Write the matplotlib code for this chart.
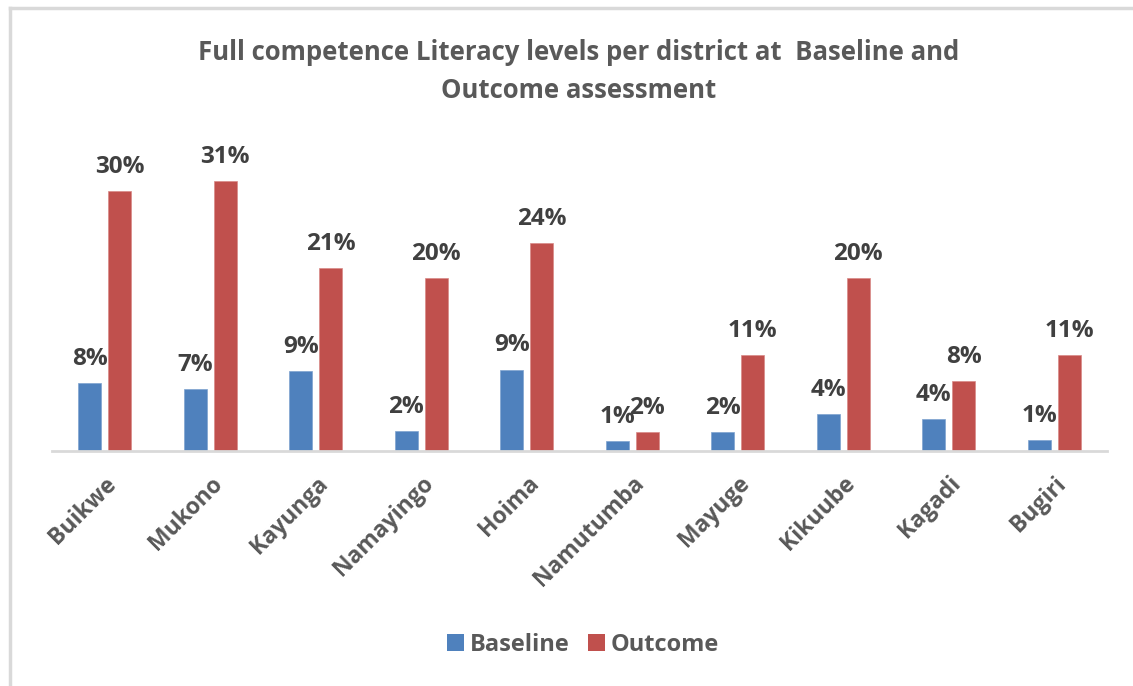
import matplotlib

matplotlib.use("Agg")
import matplotlib.pyplot as plt
import numpy as np
from matplotlib.lines import Line2D
from matplotlib.patches import Patch

districts = ["Buikwe", "Mukono", "Kayunga", "Namayingo", "Hoima",
             "Namutumba", "Mayuge", "Kikuube", "Kagadi", "Bugiri"]
baseline = [7.8, 7.2, 9.2, 2.3, 9.4, 1.1, 2.2, 4.3, 3.7, 1.3]
outcome = [30.0, 31.1, 21.1, 20.0, 24.0, 2.2, 11.1, 20.0, 8.1, 11.1]

BLUE = "#4f81bd"
RED = "#c0504d"
TEXT = "#595959"
LABEL = "#404040"

plt.rcParams["font.family"] = ["Open Sans", "DejaVu Sans"]

fig = plt.figure(figsize=(11.33, 6.86), dpi=100)
ax = fig.add_axes([0.0459, 0.3426, 0.9311, 0.4422])

# light grey frame lines (top and left edge of the chart box)
fy = 1 - 7.5 / 686
fx = 9.5 / 1133
fig.add_artist(Line2D([fx, 1.0], [fy, fy], transform=fig.transFigure,
                      color="#d9d9d9", linewidth=2.5))
fig.add_artist(Line2D([fx, fx], [0, fy], transform=fig.transFigure,
                      color="#d9d9d9", linewidth=2.5))

x = np.arange(len(districts))
w = 0.218
off = 0.143
b1 = ax.bar(x - off, baseline, w, color=BLUE, edgecolor="#7ea3d0", linewidth=0.5)
b2 = ax.bar(x + off, outcome, w, color=RED, edgecolor="#d98a88", linewidth=0.5)

for bars, vals in ((b1, baseline), (b2, outcome)):
    for bar, v in zip(bars, vals):
        ax.annotate(f"{v:.0f}%", (bar.get_x() + bar.get_width() / 2, v),
                    xytext=(0, 13), textcoords="offset points",
                    ha="center", va="baseline", fontsize=17.5,
                    fontweight="bold", color=LABEL)

ax.set_xlim(-0.5, len(districts) - 0.5)
ax.set_ylim(0, 35)
ax.set_yticks([])
for s in ("top", "right", "left"):
    ax.spines[s].set_visible(False)
ax.spines["bottom"].set_color("#d9d9d9")
ax.spines["bottom"].set_linewidth(2)

ax.set_xticks(x)
ax.set_xticklabels(districts, rotation=45, ha="right", rotation_mode="anchor",
                   fontsize=16.5, fontweight="bold", color=TEXT)
ax.tick_params(axis="x", length=0, pad=15)

fig.text(0.511, 1 - 53 / 686,
         "Full competence Literacy levels per district at  Baseline and",
         ha="center", va="center", fontsize=18.5, fontweight="bold", color=TEXT)
fig.text(0.511, 1 - 91 / 686, "Outcome assessment",
         ha="center", va="center", fontsize=18.5, fontweight="bold", color=TEXT)

handles = [Patch(facecolor=BLUE, label="Baseline"),
           Patch(facecolor=RED, label="Outcome")]
fig.legend(handles=handles, loc="center", bbox_to_anchor=(583 / 1133, 1 - 645 / 686),
           ncol=2, frameon=False, handlelength=0.7, handleheight=0.7,
           handletextpad=0.25, columnspacing=0.8, labelcolor=TEXT,
           prop={"size": 17, "weight": "bold"})

fig.savefig("out.png", dpi=100)
